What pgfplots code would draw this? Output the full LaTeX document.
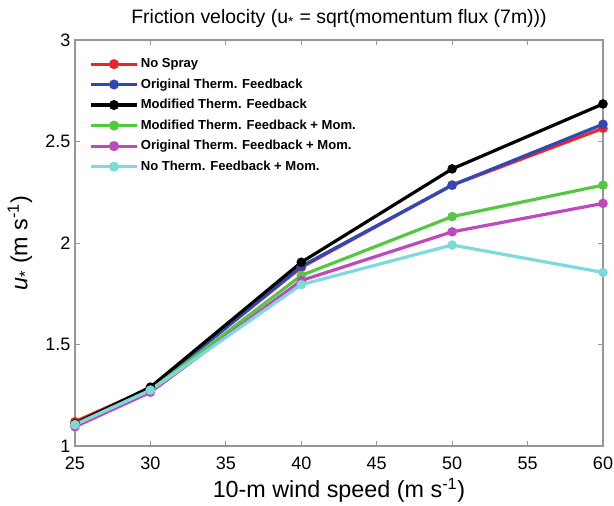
\documentclass[border=0pt]{standalone}
\usepackage{pgfplots}
\pgfplotsset{compat=1.18}
\usepackage{fontspec}
\setmainfont{Liberation Sans}
\definecolor{cRed}{RGB}{232,40,40}
\definecolor{cBlue}{RGB}{48,72,180}
\definecolor{cGreen}{RGB}{84,200,64}
\definecolor{cMag}{RGB}{190,72,192}
\definecolor{cCyan}{RGB}{124,218,218}
\definecolor{frameGray}{RGB}{150,150,150}
\begin{document}
\begin{tikzpicture}
\useasboundingbox (-56.25pt,-45pt) rectangle (404.25pt,334.5pt);
\begin{axis}[
  at={(0,0)}, anchor=south west,
  scale only axis,
  width=396pt, height=304.5pt,
  xmin=25, xmax=60, ymin=1, ymax=3,
  xtick={25,30,...,60}, ytick={1,1.5,2,2.5,3},
  yticklabels={1,1.5,2,2.5,3},
  axis line style={frameGray, line width=0.8pt},
  tick style={frameGray, line width=0.6pt},
  tick align=inside, major tick length=4pt,
  xtick pos=both, ytick pos=both,
  /pgf/number format/assume math mode=true,
  tick label style={font=\fontsize{13.5}{15}\selectfont},
  xticklabel style={yshift=-5pt},
  yticklabel style={xshift=0pt},
  title={Friction velocity (u\textsubscript{*} = sqrt(momentum flux (7m)))},
  title style={font=\fontsize{14.6}{16}\selectfont, yshift=0pt},
  xlabel={10-m wind speed (m s\textsuperscript{-1})},
  xlabel style={font=\fontsize{17.5}{19}\selectfont, yshift=1pt},
  ylabel={\textit{u}\textsubscript{*} (m s\textsuperscript{-1})},
  ylabel style={font=\fontsize{17.5}{19}\selectfont, yshift=3pt},
  legend style={at={(0.02,0.968)}, anchor=north west, draw=none, fill=none,
    font=\bfseries\fontsize{9.8}{11}\selectfont, row sep=2.8pt,
    /tikz/every even column/.append style={column sep=2pt}},
  legend cell align=left,
  legend image code/.code={
    \draw[#1, line width=2.4pt] (0cm,0cm) -- (1.19cm,0cm);
    \fill[#1] (0.595cm,0cm) circle (2.5pt);
  },
  every axis plot/.append style={line width=2.4pt, mark=*, mark size=2.3pt},
]
\addplot[cRed] coordinates {(25,1.12) (30,1.285) (40,1.88) (50,2.285) (60,2.565)};
\addlegendentry{No Spray}
\addplot[cBlue] coordinates {(25,1.105) (30,1.28) (40,1.885) (50,2.285) (60,2.585)};
\addlegendentry{Original Therm. Feedback}
\addplot[black] coordinates {(25,1.11) (30,1.29) (40,1.905) (50,2.365) (60,2.685)};
\addlegendentry{Modified Therm. Feedback}
\addplot[cGreen] coordinates {(25,1.105) (30,1.275) (40,1.84) (50,2.13) (60,2.285)};
\addlegendentry{Modified Therm. Feedback + Mom.}
\addplot[cMag] coordinates {(25,1.095) (30,1.265) (40,1.815) (50,2.055) (60,2.195)};
\addlegendentry{Original Therm. Feedback + Mom.}
\addplot[cCyan] coordinates {(25,1.105) (30,1.275) (40,1.795) (50,1.99) (60,1.855)};
\addlegendentry{No Therm. Feedback + Mom.}
\end{axis}
\end{tikzpicture}
\end{document}
